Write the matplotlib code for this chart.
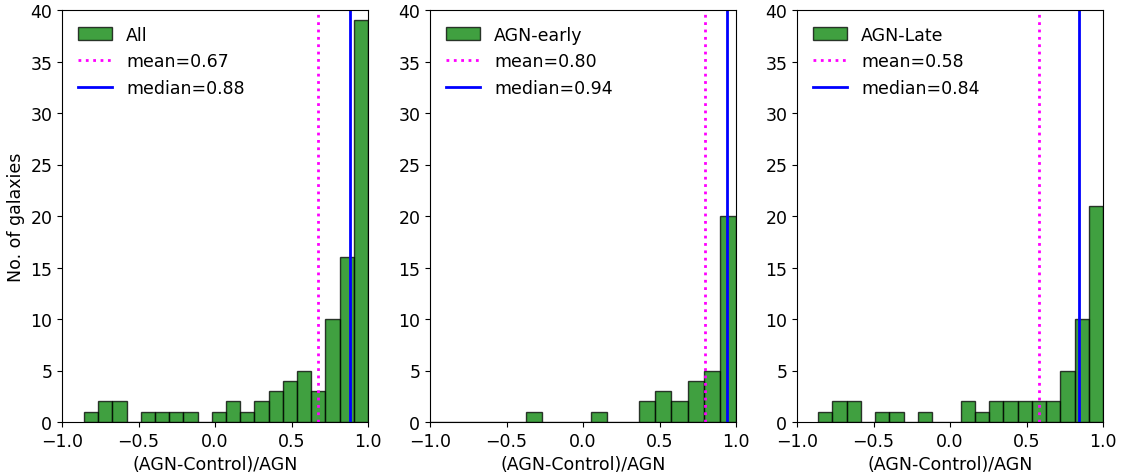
import numpy as np
import matplotlib
matplotlib.use("Agg")
import matplotlib.pyplot as plt
from matplotlib.patches import Patch
from matplotlib.lines import Line2D

# Data (20 histogram bins per panel, from data min to 1.0)
labels = ["All", "AGN-early", "AGN-Late"]
bin_lo = [-0.856, -1.11, -0.862]
bin_hi = [1.0, 1.0, 1.0]
counts_all = [1, 2, 2, 0, 1, 1, 1, 1, 0, 1, 2, 1, 2, 3, 4, 5, 3, 10, 16, 39]
counts_early = [1, 0, 0, 0, 0, 0, 0, 1, 0, 0, 0, 1, 0, 0, 2, 3, 2, 4, 5, 20]
counts_late = [1, 2, 2, 0, 1, 1, 0, 1, 0, 0, 2, 1, 2, 2, 2, 2, 2, 5, 10, 21]
means = [0.67, 0.80, 0.58]
medians = [0.88, 0.94, 0.84]

counts = [counts_all, counts_early, counts_late]

fs = 12.5
fig = plt.figure(figsize=(11.21, 4.77), dpi=100)
lefts = [62 / 1121, 430 / 1121, 797 / 1121]
width = 306 / 1121
bottom = (477 - 423) / 477
height = 412 / 477

for i in range(3):
    ax = fig.add_axes([lefts[i], bottom, width, height])
    edges = np.linspace(bin_lo[i], bin_hi[i], len(counts[i]) + 1)
    centers = 0.5 * (edges[:-1] + edges[1:])
    ax.hist(centers, bins=edges, weights=counts[i], color="green",
            edgecolor="black", alpha=0.75)
    ax.axvline(means[i], color="magenta", linestyle=":", linewidth=2)
    ax.axvline(medians[i], color="blue", linestyle="-", linewidth=2)
    ax.set_xlim(-1, 1)
    ax.set_ylim(0, 40)
    ax.set_xticks([-1.0, -0.5, 0.0, 0.5, 1.0])
    ax.set_yticks(range(0, 41, 5))
    ax.tick_params(labelsize=fs)
    ax.set_xlabel("(AGN-Control)/AGN", fontsize=fs)
    if i == 0:
        ax.set_ylabel("No. of galaxies", fontsize=fs)
    handles = [
        Patch(facecolor="green", edgecolor="black", alpha=0.75),
        Line2D([], [], color="magenta", linestyle=":", linewidth=2),
        Line2D([], [], color="blue", linestyle="-", linewidth=2),
    ]
    ax.legend(handles, [labels[i], "mean=%.2f" % means[i], "median=%.2f" % medians[i]],
              loc="upper left", frameon=False, fontsize=fs)

fig.savefig("out.png", dpi=100)
